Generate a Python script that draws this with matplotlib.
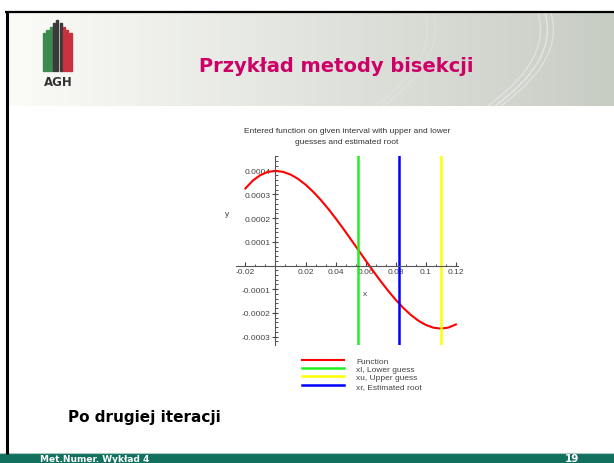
import numpy as np
import matplotlib
matplotlib.use('Agg')
import matplotlib.pyplot as plt
from matplotlib.path import Path
from matplotlib.patches import PathPatch, Rectangle
from matplotlib.ticker import AutoMinorLocator

# ---- data ----
x_vals = [-0.02, -0.015, -0.01, -0.005, 0.0, 0.005, 0.01, 0.015, 0.02, 0.025,
          0.03, 0.035, 0.04, 0.045, 0.05, 0.055, 0.06, 0.065, 0.07, 0.075,
          0.08, 0.085, 0.09, 0.095, 0.10, 0.105, 0.11, 0.115, 0.12]
f_vals = [3.253e-4, 3.588e-4, 3.818e-4, 3.951e-4, 3.993e-4, 3.953e-4, 3.838e-4,
          3.656e-4, 3.413e-4, 3.118e-4, 2.778e-4, 2.401e-4, 1.993e-4, 1.563e-4,
          1.118e-4, 0.666e-4, 0.213e-4, -0.232e-4, -0.662e-4, -1.069e-4,
          -1.447e-4, -1.787e-4, -2.082e-4, -2.325e-4, -2.507e-4, -2.622e-4,
          -2.662e-4, -2.619e-4, -2.487e-4]
x_lower = 0.055
x_upper = 0.11
x_root = 0.0825

x_ticks = [-0.02, 0.02, 0.04, 0.06, 0.08, 0.1, 0.12]
x_tick_labels = ['-0.02', '0.02', '0.04', '0.06', '0.08', '0.1', '0.12']
y_ticks = [-0.0003, -0.0002, -0.0001, 0.0001, 0.0002, 0.0003, 0.0004]
y_tick_labels = ['-0.0003', '-0.0002', '-0.0001', '0.0001', '0.0002', '0.0003', '0.0004']
legend_labels = ['Function', 'xl, Lower guess', 'xu, Upper guess', 'xr, Estimated root']

plot_title = 'Entered function on given interval with upper and lower\nguesses and estimated root'
slide_title = 'Przykład metody bisekcji'
slide_note = 'Po drugiej iteracji'
footer_text = 'Met.Numer. Wykład 4'
page_no = '19'

fig = plt.figure(figsize=(6.14, 4.64), dpi=100, facecolor='white')

# ---- slide decoration (pixel coordinates) ----
bg = fig.add_axes([0, 0, 1, 1])
bg.axis('off')

grad = np.linspace(0, 1, 256)
c0 = np.array([251, 251, 248]) / 255
c1 = np.array([200, 205, 196]) / 255
img = c0[None, :] * (1 - grad[:, None]) + c1[None, :] * grad[:, None]
bg.imshow(img[None, :, :], extent=(9, 614, 107, 14), aspect='auto', zorder=0)

# faint swooshes in the header
for x0, a in [(538, 0.35), (545, 0.45), (551, 0.35), (425, 0.15), (433, 0.15)]:
    p = Path([(x0, 14), (x0 + 14, 60), (x0 - 50, 107)],
             [Path.MOVETO, Path.CURVE3, Path.CURVE3])
    bg.add_patch(PathPatch(p, fill=False, ec='white', lw=1.0, alpha=a, zorder=1))

bg.set_xlim(0, 614)
bg.set_ylim(464, 0)

# black frame
bg.plot([6.5, 6.5], [12, 455], color='black', lw=2.2, solid_capstyle='butt', zorder=3)
bg.plot([5, 614], [13, 13], color='black', lw=1.6, solid_capstyle='butt', zorder=3)

# AGH logo
for i, (col, top) in enumerate([('#3d8a4e', 34), ('#3d8a4e', 31), ('#3d8a4e', 28),
                                 ('#3a3a3a', 24), ('#3a3a3a', 21), ('#3a3a3a', 24),
                                 ('#c8323f', 28), ('#c8323f', 31), ('#c8323f', 34)]):
    bg.add_patch(Rectangle((43 + i * 3.3, top), 2.2, 72 - top, color=col, zorder=2))
bg.text(58, 83, 'AGH', ha='center', va='center', fontsize=8.5, fontweight='bold',
        color='#333333')

bg.text(336, 66, slide_title, ha='center', va='center', fontsize=14,
        fontweight='bold', color='#cc0066')

bg.text(68, 418, slide_note, ha='left', va='center', fontsize=11,
        fontweight='bold', color='black')

# footer
bg.add_patch(Rectangle((0, 455), 614, 9, color='#12705e', zorder=2))
bg.plot([0, 614], [454, 454], color='#a8ccc2', lw=0.8, zorder=2)
bg.text(40, 464, footer_text, ha='left', va='bottom', fontsize=6.5,
        fontweight='bold', color='white', zorder=3)
bg.text(572, 464, page_no, ha='center', va='bottom', fontsize=7.5,
        fontweight='bold', color='white', zorder=3)

# ---- Maple style plot ----
plt.rcParams['font.family'] = ['Liberation Sans', 'DejaVu Sans']
ax = fig.add_axes([0.385, 0.255, 0.3611, 0.4071])
ax.set_facecolor('none')
ax.set_axisbelow(True)

h0, = ax.plot(x_vals, f_vals, color='#ff0000', lw=1.5, label=legend_labels[0])
h1 = ax.axvline(x_lower, color='#22ee22', lw=1.8, label=legend_labels[1])
h2 = ax.axvline(x_upper, color='#ffff00', lw=1.8, label=legend_labels[2])
h3 = ax.axvline(x_root, color='#0000ff', lw=1.8, label=legend_labels[3])

ax.set_xlim(-0.026, 0.1215)
ax.set_ylim(-0.000334, 0.000463)

for s in ['top', 'right']:
    ax.spines[s].set_visible(False)
ax.spines['left'].set_position(('data', 0))
ax.spines['bottom'].set_position(('data', 0))
for s in ['left', 'bottom']:
    ax.spines[s].set_color('#555555')
    ax.spines[s].set_linewidth(0.8)

ax.set_xticks(x_ticks, x_tick_labels)
ax.set_yticks(y_ticks, y_tick_labels)
ax.xaxis.set_minor_locator(AutoMinorLocator(6))
ax.yaxis.set_minor_locator(AutoMinorLocator(5))
ax.tick_params(axis='x', which='major', direction='in', length=3, width=0.8,
               pad=1.5, labelsize=6, colors='#444444')
ax.tick_params(axis='x', which='minor', direction='in', length=1.8, width=0.7,
               colors='#555555')
ax.tick_params(axis='y', which='major', direction='inout', length=4, width=0.8,
               pad=1.5, labelsize=6, colors='#444444')
ax.tick_params(axis='y', which='minor', direction='in', length=1.8, width=0.7,
               colors='#555555')

ax.text(0.0596, -0.00012, 'x', fontsize=6, color='#444444', ha='center', va='center')
ax.text(-0.0323, 0.000221, 'y', fontsize=6, color='#444444', ha='center', va='center',
        clip_on=False)

fig.text(347 / 614, 1 - 137 / 464, plot_title, ha='center', va='center',
         fontsize=6, color='#333333', linespacing=1.7)

fig.legend(handles=[h0, h1, h2, h3], loc='upper left',
           bbox_to_anchor=(302 / 614, 1 - 358 / 464), frameon=False,
           fontsize=6, handlelength=5.0, handletextpad=1.5, labelspacing=0.05,
           borderpad=0, borderaxespad=0, labelcolor='#444444')

fig.savefig('out.png', dpi=100, facecolor='white')
